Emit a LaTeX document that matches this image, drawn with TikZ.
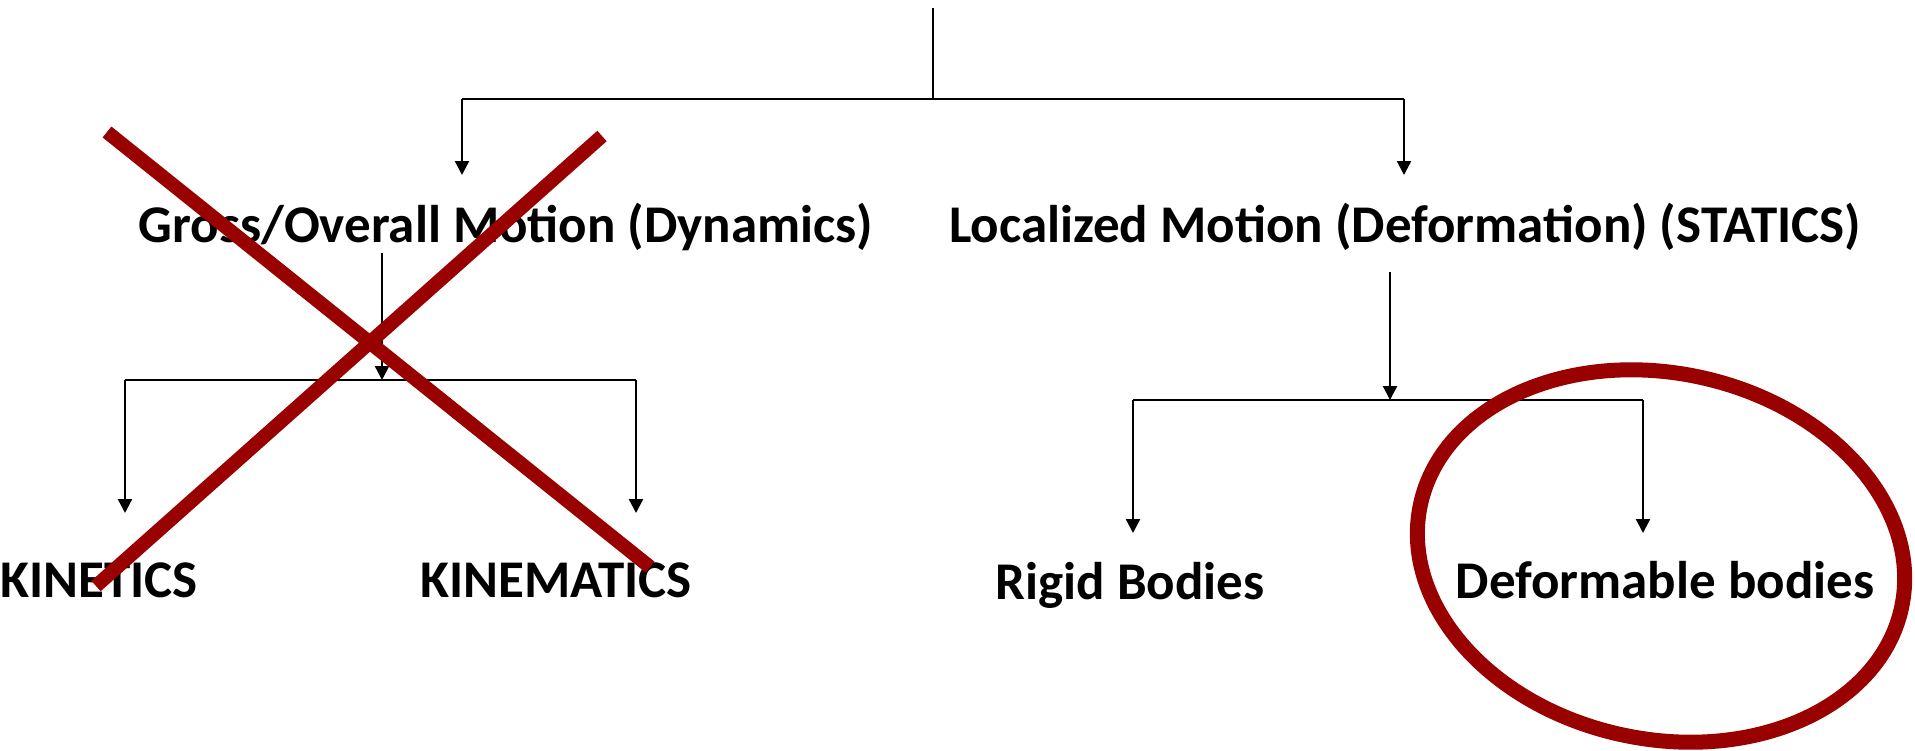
\documentclass[tikz,border=0pt]{standalone}
\usepackage{fontspec}
\setmainfont{Carlito}
\usetikzlibrary{arrows.meta}
\definecolor{xred}{RGB}{153,0,0}
\begin{document}
\begin{tikzpicture}[x=0.5pt,y=-0.5pt,
  lbl/.style={font=\fontsize{26.5pt}{30pt}\selectfont\bfseries, inner sep=0pt, anchor=base},
  conn/.style={line width=1.15pt, black},
  barline/.style={line width=1.3pt, black},
  arr/.style={conn, -{Triangle[width=7pt,length=7pt]}},
  cross/.style={xred, line width=7pt},
  ring/.style={xred, line width=7.5pt},
]
\useasboundingbox (0,0) rectangle (1915,750);
% labels
\node[lbl] (gross) at (506,242) {Gross/Overall Motion (Dynamics)};
\node[lbl] (local) at (1405,242) {Localized Motion (Deformation) (STATICS)};
\node[lbl] (kinetics) at (99,597) {KINETICS};
\node[lbl] (kinematics) at (556,597) {KINEMATICS};
\node[lbl] (rigid) at (1130,599) {Rigid Bodies};
\node[lbl] (deform) at (1665,598) {Deformable bodies};
% junction coordinates
\coordinate (top) at (933,8);
\coordinate (tj) at (933,99);
\coordinate (tl) at (462,99);
\coordinate (tr) at (1404,99);
\coordinate (tlend) at (462,175);
\coordinate (trend) at (1404,175);
\coordinate (gs) at (382,253);
\coordinate (gj) at (382,380);
\coordinate (gl) at (125,380);
\coordinate (gr) at (636,380);
\coordinate (glend) at (125,513);
\coordinate (grend) at (636,513);
\coordinate (ls) at (1390,272);
\coordinate (lj) at (1390,400);
\coordinate (ll) at (1133,400);
\coordinate (lr) at (1643,400);
\coordinate (llend) at (1133,533);
\coordinate (lrend) at (1643,533);
% top tree
\draw[conn] (top) -- (tj);
\draw[barline] (tl) -- (tr);
\draw[arr] (tl) -- (tlend);
\draw[arr] (tr) -- (trend);
% left subtree
\draw[arr] (gs) -- (gj);
\draw[barline] (gl) -- (gr);
\draw[arr] (gl) -- (glend);
\draw[arr] (gr) -- (grend);
% right subtree
\draw[arr] (ls) -- (lj);
\draw[barline] (ll) -- (lr);
\draw[arr] (ll) -- (llend);
\draw[arr] (lr) -- (lrend);
% red cross
\coordinate (xa1) at (107,132);
\coordinate (xa2) at (650,567);
\coordinate (xb1) at (602,136);
\coordinate (xb2) at (96,586);
\draw[cross] (xa1) -- (xa2);
\draw[cross] (xb1) -- (xb2);
% red ellipse
\coordinate (ec) at (1661,556);
\draw[ring, rotate around={-12:(ec)}] (ec) ellipse [x radius=123pt, y radius=91.5pt];
\end{tikzpicture}
\end{document}
